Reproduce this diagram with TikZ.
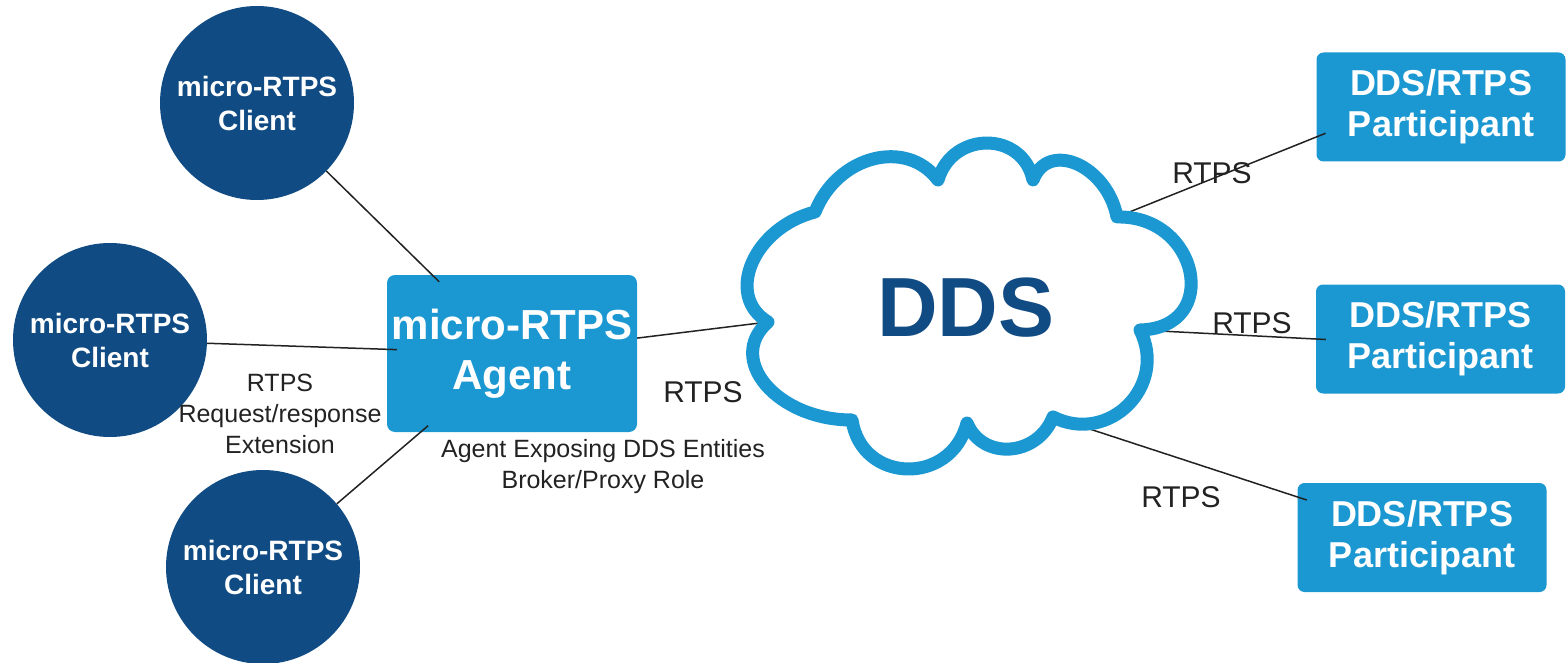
\documentclass[tikz,border=0pt]{standalone}
\usepackage{fontspec}
\setmainfont{Liberation Sans}
\usepackage{tikz}
\usetikzlibrary{arrows.meta, calc, positioning}
\definecolor{rtpsNavy}{RGB}{17,75,131}
\definecolor{rtpsBlue}{RGB}{27,151,209}
\definecolor{rtpsInk}{RGB}{34,34,34}
\tikzset{
  client/.style={circle, fill=rtpsNavy, text=white, minimum size=194pt,
                 inner sep=0pt, align=center,
                 font=\bfseries\fontsize{28}{34}\selectfont},
  agentbox/.style={rectangle, rounded corners=8pt, fill=rtpsBlue, text=white,
                   minimum width=250pt, minimum height=157pt, inner sep=2pt,
                   align=center, font=\bfseries\fontsize{42}{50}\selectfont},
  participant/.style={rectangle, rounded corners=7pt, fill=rtpsBlue, text=white,
                      minimum width=249pt, minimum height=109pt, inner sep=2pt,
                      align=center, font=\bfseries\fontsize{36}{41}\selectfont},
  link/.style={draw=rtpsInk, line width=1.5pt, shorten >=-10pt},
  cloudline/.style={draw=rtpsBlue, line width=13pt, fill=white, line join=round},
  rtpslabel/.style={text=rtpsInk, inner sep=0pt, font=\fontsize{30}{36}\selectfont},
  remark/.style={text=rtpsInk, inner sep=0pt, align=center,
                 font=\fontsize{25}{31}\selectfont},
}

\begin{document}
\begin{tikzpicture}[x=1pt, y=-1pt]
  \useasboundingbox (0,0) rectangle (1566,663);

  % ----- clients -----
  \node[client] (c1) at (257,103) {micro-RTPS\\Client};
  \node[client] (c2) at (110,340) {micro-RTPS\\Client};
  \node[client] (c3) at (263,567) {micro-RTPS\\Client};

  % ----- agent -----
  \node[agentbox] (agent) at (512,353.5) {micro-RTPS\\Agent};

  % ----- participants -----
  \node[participant] (p1) at (1441,107)   {DDS/RTPS\\Participant};
  \node[participant] (p2) at (1440.5,339) {DDS/RTPS\\Participant};
  \node[participant] (p3) at (1422,537.5) {DDS/RTPS\\Participant};

  % ----- cloud cusps -----
  \coordinate (k1) at (815,212);
  \coordinate (k2) at (938,180);
  \coordinate (k3) at (1033,180);
  \coordinate (k4) at (1117,217);
  \coordinate (k5) at (1140,330);
  \coordinate (k6) at (1053,417);
  \coordinate (k7) at (967,423);
  \coordinate (k8) at (852,420);
  \coordinate (k9) at (768,322);

  % ----- links -----
  \draw[link] (c1) -- (agent);
  \draw[link] (c2) -- (agent);
  \draw[link] (c3) -- (agent);
  \draw[link, shorten >=0pt] (agent) -- (k9);
  \draw[link] (k4) -- ([yshift=-30pt]p1.west);
  \draw[link] (k5) -- (p2.west);
  \draw[link] (k6) -- (p3);

  % ----- cloud -----
  \draw[cloudline] (k9)
    .. controls (724.2,295.8) and (753.4,227.6) .. (k1)
    .. controls (837.4,155.7) and (906.2,137.7) .. (k2)
    .. controls (952.4,130.7) and (1022.6,130.7) .. (k3)
    .. controls (1048.3,139.6) and (1107.1,165.4) .. (k4)
    .. controls (1199,215)    and (1222,328)    .. (k5)
    .. controls (1168.1,385.9) and (1108.9,445.1) .. (k6)
    .. controls (1037.5,456.8) and (982.5,460.6) .. (k7)
    .. controls (951,486)     and (861.4,483.6) .. (k8)
    .. controls (777.3,420.1) and (725.3,359.3) .. (k9) -- cycle;
  \node[text=rtpsNavy, font=\bfseries\fontsize{84}{90}\selectfont]
        (dds) at (966,308) {DDS};

  % ----- labels -----
  \node[rtpslabel] (rtpsA)  at (703,392)  {RTPS};
  \node[rtpslabel] (rtpsP1) at (1212,173) {RTPS};
  \node[rtpslabel] (rtpsP2) at (1252,323) {RTPS};
  \node[rtpslabel] (rtpsP3) at (1181,497) {RTPS};
  \node[remark] (ext)  at (280,414) {RTPS\\Request/response\\Extension};
  \node[remark] (role) at (603,467) {Agent Exposing DDS Entities\\Broker/Proxy Role};
\end{tikzpicture}
\end{document}
